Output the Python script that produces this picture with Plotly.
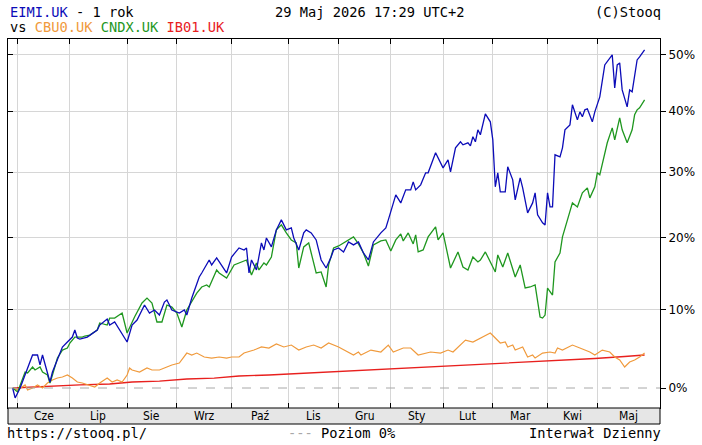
import plotly.graph_objects as go
import pandas as pd

# ---------------- data ----------------
months = ["Cze", "Lip", "Sie", "Wrz", "Paź", "Lis", "Gru", "Sty", "Lut", "Mar", "Kwi", "Maj"]
y_tick_pct = [0, 10, 20, 30, 40, 50]
y_tick_text = ["0%", "10%", "20%", "30%", "40%", "50%"]
uk_holidays = ["2025-08-25", "2025-12-25", "2025-12-26", "2026-01-01",
               "2026-04-03", "2026-04-06", "2026-05-04", "2026-05-25"]

# trading-day index -> % change since start
eimi_idx = [0,1,3,5,8,10,11,12,13,15, 16,18,20,22,24,25,26,27,30,34, 35,38,39,41,43,46,48,50,53,55,
            57,59,61,62,64,67,69,70,72,75, 76,79,80,82,86,88,91,93,94,95, 96,98,100,101,102,104,106,108,110,112,
            113,115,117,118,120,122,124,126,128,129, 131,133,135,137,139,141,143,145,148,150,
            151,154,156,158,160,161,162,164,166,167, 170,173,175,176,178,180,181,183,184,185,
            186,187,188,190,192,193,194,195,196,198, 199,201,202,204,205,207,209,210,211,213,
            214,215,216,217,218,220,221,222,224,225, 227,228,229,230,231,233,234,236,238,241,
            242,243,244,245,247,248,249,251,252,254]
eimi_pct = [0.0,-1.2,0.0,1.59,4.09,4.09,2.84,4.09,2.84,0.73, 1.96,3.46,5.11,5.75,6.39,7.30,6.26,6.13,6.39,7.30,
            7.95,8.74,7.95,8.35,7.30,5.75,7.95,8.61,10.61,9.54, 9.94,9.27,11.01,11.28,9.94,9.54,9.94,9.27,11.55,14.44,
            15.0,16.83,16.13,17.12,15.0,17.26,18.55,18.26,18.55,15.0, 16.83,15.42,19.28,18.26,20.0,18.70,21.18,22.66,21.18,21.47,
            20.0,18.26,20.74,21.18,20.74,19.71,16.83,15.70,17.26,18.26, 18.55,17.98,19.42,18.99,19.42,17.83,16.83,19.42,20.74,21.47,
            22.66,26.45,25.22,27.22,27.22,28.47,27.22,28.0,29.88,29.88, 33.08,30.67,31.95,30.04,33.89,34.87,34.38,34.71,34.22,35.70,
            34.87,36.85,36.03,39.54,38.19,35.2,27.69,29.88,26.91,26.91, 30.83,28.78,25.68,29.09,27.53,23.71,25.22,26.76,23.41,22.22,
            21.92,26.76,24.61,24.61,32.76,32.43,33.89,36.85,37.68,41.07, 38.52,39.87,39.03,40.21,40.38,38.19,39.87,42.44,48.08,49.89,
            44.0,48.08,48.44,43.65,40.72,43.65,43.31,48.98,49.52,50.80]

cndx_idx = [0,2,5,6,8,9,11,12,14,15, 16,18,20,22,23,25,28,29,31,34, 35,38,39,41,44,46,49,52,54,56,
            58,60,62,64,66,68,70,72,74,76, 78,79,82,83,86,89,92,94,96,98, 99,101,102,104,106,108,110,112,114,115,
            117,119,120,122,124,126,127,129,131,135, 137,139,141,143,145,148,150,152,154,156,
            157,159,161,162,163,165,167,170,171,173, 176,179,181,183,185,187,188,190,192,194,
            195,197,199,202,204,206,208,210,212,213, 214,215,217,218,220,221,223,225,227,229,
            231,232,234,235,236,239,241,242,244,245, 247,249,250,251,252,254]
cndx_pct = [0.0,-0.48,1.96,1.84,2.58,2.21,2.58,1.96,1.59,0.61, 1.59,3.71,4.72,4.98,5.62,6.39,6.39,6.52,6.65,7.30,
            8.22,7.95,8.87,8.87,9.54,6.91,9.01,10.88,11.55,10.88, 8.35,8.35,10.61,10.34,9.54,7.69,9.94,11.01,12.23,13.06,
            13.33,13.06,15.42,15.0,14.30,16.13,16.55,16.83,14.72,16.41, 15.42,16.41,16.13,17.26,21.18,21.92,20.74,19.71,19.28,15.70,
            18.70,19.28,17.83,15.0,15.14,13.06,16.13,18.55,18.84,19.71, 20.15,19.13,17.83,15.98,18.99,19.57,19.71,18.12,19.71,20.59,
            19.57,20.74,19.13,20.44,17.98,18.26,20.15,21.62,19.71,20.74, 15.70,17.98,15.84,15.42,17.26,16.55,16.83,17.98,16.55,15.14,
            17.55,15.84,17.83,14.44,16.13,12.92,13.06,13.33,9.01,8.87, 9.27,12.92,11.96,16.55,17.83,20.15,22.66,25.22,24.61,26.76,
            27.53,25.99,27.69,29.88,29.56,34.71,37.18,35.20,38.86,36.85, 34.71,36.85,39.37,40.21,40.55,41.93]

cbu0_idx = [0,2,5,6,8,10,12,14,16,18, 20,22,24,26,28,31,33,35,38,40, 42,44,46,47,48,51,54,56,59,62,
            64,67,70,72,74,77,80,83,86,88, 91,93,97,100,103,106,109,112,115,118, 121,124,127,131,135,137,139,140,144,148,
            151,153,157,160,163,168,172,175,177,180, 182,185,188,192,194,196,198,199,201,202,
            205,207,209,210,213,216,218,219,221,225, 228,232,234,237,240,242,244,246,248,250, 252,254]
cbu0_pct = [0.0,-0.24,0.37,-0.24,0.0,0.37,0.0,0.61,0.98,1.22, 1.35,1.59,1.22,0.73,0.61,0.37,0.12,0.61,1.22,0.73,
            0.98,0.73,1.59,2.46,2.21,1.96,2.46,2.21,2.21,2.58, 2.84,3.08,4.34,4.09,4.34,3.84,3.71,3.84,3.71,3.84,
            3.84,4.34,4.72,5.11,4.98,5.49,5.11,5.36,4.72,5.11, 5.36,4.98,5.62,5.11,4.47,4.09,4.47,4.09,4.72,4.47,
            5.36,4.47,4.98,4.98,4.09,4.47,4.34,4.72,4.47,5.36, 6.0,5.75,6.26,6.91,6.26,5.62,5.75,5.11,5.36,4.72,
            5.11,3.84,4.09,3.71,4.34,4.47,4.34,4.98,4.72,5.36, 4.98,4.47,4.09,4.72,4.47,3.84,3.46,2.58,3.21,3.46,
            3.84,4.34]

ib01_idx = [0,8,19,27,39,48,59,70,81,91,103,115,127,139,151,163,175,187,199,210,222,234,246,254]
ib01_pct = [0.0,0.12,0.24,0.37,0.49,0.73,0.85,1.10,1.22,1.47,1.59,1.78,1.96,2.09,2.34,2.52,
            2.71,2.90,3.08,3.27,3.46,3.65,3.90,4.09]

# ---------------- calendar / scales ----------------
days = pd.bdate_range("2025-05-29", "2026-05-29")
days = days[~days.isin(pd.to_datetime(uk_holidays))]
month_start = [i for i in range(1, len(days)) if days[i].month != days[i - 1].month]
X0, X1 = -1.87, 260.2
month_bounds = month_start + [X1]
month_centers = [(month_bounds[k] + month_bounds[k + 1]) / 2 for k in range(len(months))]

W, H = 702, 445
L, R, T, B = 7, 664, 39, 408
PW, PH = R - L, B - T


def px(x):
    return (x - L) / PW


def py(y):
    return (B - y) / PH


def lvl(pcts):
    return [100 + v for v in pcts]


C_BLUE, C_GREEN, C_ORANGE, C_RED = "#0c0cb8", "#1f971f", "#f09a3c", "#e8201e"
MONO = "DejaVu Sans Mono"

fig = go.Figure()
fig.add_trace(go.Scatter(x=[X0, X1], y=[100, 100], mode="lines", yaxis="y2",
                         line=dict(color="#a8a8a8", width=1, dash="dash"), hoverinfo="skip"))
fig.add_trace(go.Scatter(x=ib01_idx, y=lvl(ib01_pct), mode="lines", line=dict(color=C_RED, width=1.3)))
fig.add_trace(go.Scatter(x=cbu0_idx, y=lvl(cbu0_pct), mode="lines", line=dict(color=C_ORANGE, width=1.2)))
fig.add_trace(go.Scatter(x=cndx_idx, y=lvl(cndx_pct), mode="lines", line=dict(color=C_GREEN, width=1.3)))
fig.add_trace(go.Scatter(x=eimi_idx, y=lvl(eimi_pct), mode="lines", line=dict(color=C_BLUE, width=1.3)))

yr = [1.98945, 2.18417]
fig.update_layout(
    width=W, height=H, margin=dict(l=L, r=W - R, t=T, b=H - B),
    paper_bgcolor="white", plot_bgcolor="white", showlegend=False,
    xaxis=dict(range=[X0, X1], tickvals=month_start, showticklabels=False,
               ticks="inside", ticklen=5, tickcolor="black",
               showgrid=True, gridcolor="#d6d6d6", gridwidth=1, zeroline=False,
               showline=True, linecolor="black", linewidth=1, mirror="ticks"),
    yaxis=dict(type="log", range=yr, side="right",
               tickvals=lvl(y_tick_pct), ticktext=y_tick_text,
               ticks="outside", ticklen=5, tickcolor="black",
               tickfont=dict(family="DejaVu Sans", size=12, color="black"),
               showgrid=False, zeroline=False,
               showline=True, linecolor="black", linewidth=1, mirror=True),
    yaxis2=dict(type="log", range=yr, overlaying="y", side="left",
                tickvals=lvl(y_tick_pct[1:]), showticklabels=False,
                ticks="inside", ticklen=5, tickcolor="black",
                showgrid=True, gridcolor="#d6d6d6", gridwidth=1, zeroline=False, showline=False),
)

# x-axis band
fig.add_shape(type="rect", xref="paper", yref="paper", x0=0, x1=1, y0=py(424), y1=0,
              fillcolor="#e6e6e6", line=dict(color="black", width=1))

for name, c in zip(months, month_centers):
    fig.add_annotation(x=c, xref="x", y=py(416), yref="paper", text=name, showarrow=False,
                       xanchor="center", yanchor="middle",
                       font=dict(family="DejaVu Sans Condensed", size=12, color="black"))

def note(x, y, text, anchor="left", color="black"):
    fig.add_annotation(x=px(x), y=py(y), xref="paper", yref="paper", text=text, showarrow=False,
                       xanchor=anchor, yanchor="middle",
                       font=dict(family=MONO, size=13.7, color=color))

note(7, 12, f"<span style='color:{C_BLUE}'>EIMI.UK</span> - 1 rok")
note(7, 27, f"vs <span style='color:{C_ORANGE}'>CBU0.UK</span> <span style='color:{C_GREEN}'>CNDX.UK</span> "
            f"<span style='color:{C_RED}'>IB01.UK</span>")
note(274, 12, "29 Maj 2026 17:29 UTC+2")
note(667, 12, "(C)Stooq", anchor="right")
note(4, 433, "https://stooq.pl/")
note(287, 433, "<span style='color:#a8a8a8'>---</span> Poziom 0%")
note(667, 433, "Interwał Dzienny", anchor="right")

fig.write_html("out.html")
